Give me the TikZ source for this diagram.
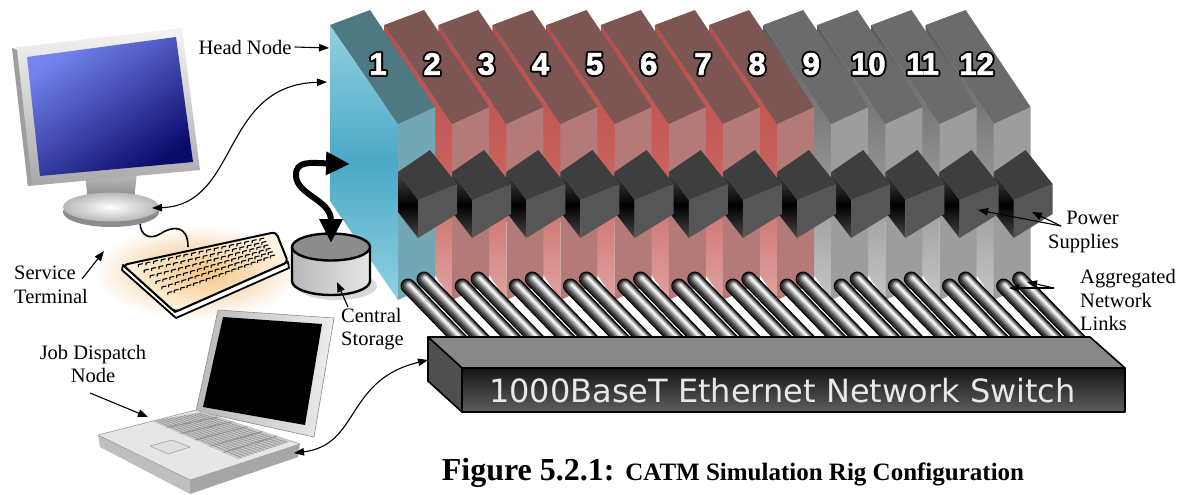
\documentclass[tikz,border=0pt]{standalone}
\usepackage{fontspec}
\setmainfont{Liberation Serif}
\newfontfamily\digitfont{Liberation Sans}
\newfontfamily\switchfont{DejaVu Sans}
\usetikzlibrary{arrows.meta,calc}

% blade colours
\definecolor{bluetop}{HTML}{4E7983}
\definecolor{bluefront}{HTML}{72A8B6}
\definecolor{blueA}{HTML}{93D0E0}
\definecolor{blueB}{HTML}{4AA8C6}
\definecolor{blueC}{HTML}{92D1E2}
\definecolor{redtop}{HTML}{7D5553}
\definecolor{redfront}{HTML}{B47A78}
\definecolor{redA}{HTML}{B84B48}
\definecolor{redB}{HTML}{C8605C}
\definecolor{redC}{HTML}{DFA3A1}
\definecolor{graytop}{HTML}{6B6B6B}
\definecolor{grayfront}{HTML}{9D9D9D}
\definecolor{grayA}{HTML}{5A5A5A}
\definecolor{grayB}{HTML}{8E8E8E}
\definecolor{grayC}{HTML}{C6C6C6}
% power supply cubes
\definecolor{cubetop}{HTML}{3E3E3E}
\definecolor{cubefront}{HTML}{565656}
\definecolor{cubeA}{HTML}{474747}
% network cables
\definecolor{tubeA}{HTML}{2E2E2E}
\definecolor{tubeB}{HTML}{555555}
\definecolor{tubeC}{HTML}{8A8A8A}
\definecolor{tubeD}{HTML}{C2C2C2}
\definecolor{tubeE}{HTML}{F2F2F2}
% switch
\definecolor{swtop}{HTML}{888888}
\definecolor{swside}{HTML}{4F4F4F}
\definecolor{swfrontbot}{HTML}{5E5E5E}
\definecolor{swtext}{HTML}{E8E8E8}
% storage
\definecolor{sttop}{HTML}{8C8C8C}
\definecolor{stA}{HTML}{B8B8B8}
\definecolor{stB}{HTML}{E6E6E6}
% terminal
\definecolor{kbglow}{HTML}{F0BC78}
\definecolor{kbcream}{HTML}{FFF4E2}
\definecolor{kbmid}{HTML}{F3C687}
\definecolor{frmA}{HTML}{F4F4F4}
\definecolor{frmB}{HTML}{A9A9A9}
\definecolor{scrA}{HTML}{7585F0}
\definecolor{scrB}{HTML}{0A0A6A}
% laptop
\definecolor{lidA}{HTML}{B8B8B8}
\definecolor{lidB}{HTML}{EDEDED}
\definecolor{deck}{HTML}{E6E6E6}

% white digits with a black outline: a wide black stroked copy under a white one
\newcommand\bladenumber[3]{%
  \node[bignum,text=black] (#1o) at (#2)
    {\special{pdf:literal direct 0 0 0 RG 4.6 w 1 j 2 Tr}#3\special{pdf:literal direct 0 Tr}};
  \node[bignum,text=white] (#1) at (#2)
    {\special{pdf:literal direct 1 1 1 RG 0.7 w 1 j 2 Tr}#3\special{pdf:literal direct 0 Tr}};}

% shaded cable: outline plus lighter inner strokes
\newcommand\cable[2]{%
  \draw[line width=15pt,line cap=round,black] #1 -- #2;
  \draw[line width=12.6pt,line cap=round,tubeA] #1 -- #2;
  \draw[line width=10pt,line cap=round,tubeB,shift={(0.5,-0.5)}] #1 -- #2;
  \draw[line width=7.4pt,line cap=round,tubeC,shift={(0.9,-0.9)}] #1 -- #2;
  \draw[line width=4.6pt,line cap=round,tubeD,shift={(1.2,-1.2)}] #1 -- #2;
  \draw[line width=2pt,line cap=round,tubeE,shift={(1.4,-1.4)}] #1 -- #2;}

\begin{document}
\begin{tikzpicture}[x=1pt,y=-1pt,line join=round,
  lbl/.style={font=\fontsize{20.5}{23.5}\selectfont,inner sep=0pt},
  ptr/.style={-{Triangle[length=10pt,width=7.5pt]},line width=1.1pt},
  dptr/.style={{Triangle[length=10pt,width=7.5pt]}-{Triangle[length=10pt,width=7.5pt]},line width=1.1pt},
  bignum/.style={font=\digitfont\bfseries\fontsize{31}{31}\selectfont,inner sep=0pt},
  fatarrow/.style={line width=6pt,{Triangle[length=24pt,width=22pt]}-{Triangle[length=24pt,width=22pt]}},
]
\useasboundingbox (0,0) rectangle (1189,495);
\fill[white] (0,0) rectangle (1189,495);

% ---------------- service terminal ----------------
\shade[inner color=kbglow,outer color=white] (197,272) ellipse[x radius=104,y radius=47];
% keyboard cable
\draw[line width=1.6pt] (140,222) .. controls (140,236) and (150,240) .. (160,234)
  .. controls (172,226) and (188,224) .. (188,247);
% keyboard lip and body
\fill[white,draw=black,line width=1.8pt] (123,265) -- (175,312) -- (288,262) -- (289,268) -- (176,318) -- (122,270) -- cycle;
\path[inner color=kbmid,outer color=kbcream,draw=black,line width=2pt,rounded corners=4pt]
  (123,265) -- (276,232) -- (288,262) -- (175,312) -- cycle;
\foreach \i in {0,...,16}{
  \foreach \j in {0,...,5}{
    \pgfmathsetmacro\uu{(\i+0.5)/17}
    \pgfmathsetmacro\vv{(\j+0.5)/6}
    \pgfmathsetmacro\kx{(1-\vv)*((1-\uu)*134+\uu*265)+\vv*((1-\uu)*170+\uu*277)}
    \pgfmathsetmacro\ky{(1-\vv)*((1-\uu)*264+\uu*238)+\vv*((1-\uu)*298+\uu*258)}
    \draw[line width=1.1pt] (\kx-2.4,\ky+1) -- ++(0,-2.4) -- ++(4.4,-1);
  }}

% monitor
\fill[black!45] (111,212) ellipse[x radius=48,y radius=15];
\shade[top color=black!25,bottom color=black!50] (85,174) -- (137,172) -- (134,201) -- (88,203) -- cycle;
\shade[inner color=white,outer color=black!28] (111,207) ellipse[x radius=48,y radius=14.5];
\shade[top color=frmA,bottom color=frmB] (12,48) -- (182,28) -- (200,170) -- (28,186) -- cycle;
\fill[black!38] (12,48) -- (17,50) -- (32,184) -- (28,186) -- cycle;
\shade[top color=scrA,bottom color=scrB,shading angle=35] (27,57) -- (176,37) -- (193,162) -- (40,176) -- cycle;

% ---------------- cluster blades ----------------
\foreach \k in {12,11,...,1}{
  \pgfmathsetmacro\dx{(\k-1)*54.15}
  \ifnum\k=1
    \colorlet{ctop}{bluetop}\colorlet{cfront}{bluefront}%
    \colorlet{csa}{blueA}\colorlet{csb}{blueB}\colorlet{csc}{blueC}%
  \else\ifnum\k<9
    \colorlet{ctop}{redtop}\colorlet{cfront}{redfront}%
    \colorlet{csa}{redA}\colorlet{csb}{redB}\colorlet{csc}{redC}%
  \else
    \colorlet{ctop}{graytop}\colorlet{cfront}{grayfront}%
    \colorlet{csa}{grayA}\colorlet{csb}{grayB}\colorlet{csc}{grayC}%
  \fi\fi
  \begin{scope}[shift={(\dx,0)}]
    \path[top color=csa,bottom color=csc,middle color=csb] (330,25) -- (398,124) -- (398,300) -- (330,201) -- cycle;
    \fill[cfront] (398,124) -- (435,107) -- (435,283) -- (398,300) -- cycle;
    \fill[ctop] (330,25) -- (370,10) -- (435,107) -- (398,124) -- cycle;
    % power supply
    \path[top color=cubeA,bottom color=cubeA,middle color=black] (398,172) -- (418,200) -- (418,238) -- (398,212) -- cycle;
    \fill[cubefront] (418,200) -- (457,184) -- (457,214) -- (418,238) -- cycle;
    \fill[cubetop] (398,172) -- (430,150) -- (457,184) -- (418,200) -- cycle;
    \ifnum\k>9 \def\nx{381}\else\def\nx{378}\fi
    \bladenumber{num\k}{\nx,64}{\k}
  \end{scope}
}

% aggregated network links
\foreach \k in {12,11,...,1}{
  \pgfmathsetmacro\dx{(\k-1)*54.15}
  \begin{scope}[shift={(\dx,0)}]
    \cable{(424,279)}{(484,341)}
    \cable{(408,286)}{(466,346)}
  \end{scope}
}

% ---------------- network switch ----------------
\fill[swtop,draw=black,line width=1.6pt] (428,337) -- (1090,337) -- (1125,368) -- (462,368) -- cycle;
\fill[swside,draw=black,line width=1.6pt] (428,337) -- (462,368) -- (462,412) -- (428,381) -- cycle;
\path[top color=black!92,bottom color=swfrontbot,draw=black,line width=1.6pt] (462,368) rectangle (1125,412);
\node[font=\switchfont\fontsize{32}{32}\selectfont,text=swtext,inner sep=0pt] (sw) at (782.5,391)
  {1000BaseT Ethernet Network Switch};
\coordinate (swleft) at (428,360);

% ---------------- central storage ----------------
\fill[black!15] (337,286) ellipse[x radius=40,y radius=14];
\path[left color=stA,right color=stB,draw=black,line width=2.4pt]
  (292,247) -- (292,281) arc[start angle=180,end angle=0,x radius=39,y radius=14] -- (370,247) -- cycle;
\path[fill=sttop,draw=black,line width=2.4pt] (331,247) ellipse[x radius=39,y radius=13.5];
\coordinate (sttopc) at (331,243);
\coordinate (hnin) at (350,164);
\draw[fatarrow] (sttopc) .. controls (331,200) and (297,195) .. (296,176)
  .. controls (295,160) and (312,163) .. (hnin);

% ---------------- job dispatch laptop ----------------
\fill[black!25] (98,435) -- (190,480) -- (190,494) -- (100,447) -- cycle;
\fill[black!35] (190,480) -- (300,444) -- (298,457) -- (190,494) -- cycle;
\path[left color=lidA,right color=lidB,draw=black!45,line width=0.6pt] (218,310) -- (334,318) -- (314,437) -- (196,411) -- cycle;
\fill[black] (223,317) -- (322,324) -- (305,425) -- (203,407) -- cycle;
\path[fill=deck,draw=black!40,line width=0.6pt] (98,435) -- (196,410) -- (300,444) -- (190,480) -- cycle;
\coordinate (lk1) at (152,421); \coordinate (lk2) at (203,412);
\coordinate (lk3) at (292,441); \coordinate (lk4) at (238,459);
\fill[black!22] (lk1) -- (lk2) -- (lk3) -- (lk4) -- cycle;
\foreach \t in {0.17,0.33,0.5,0.67,0.83}{
  \draw[black!45,line width=0.8pt] ($(lk1)!\t!(lk4)$) -- ($(lk2)!\t!(lk3)$);}
\foreach \t in {0.07,0.14,...,0.95}{
  \draw[black!45,line width=0.6pt] ($(lk1)!\t!(lk2)$) -- ($(lk4)!\t!(lk3)$);}
\path[fill=black!12,draw=black!40,line width=0.5pt] (150,446) -- (172,440) -- (190,447) -- (168,454) -- cycle;

% ---------------- labels and pointers ----------------
\node[lbl] (lhead) at (245,47) {Head Node};
\coordinate (headtip) at (329,48);
\draw[ptr] ([xshift=3pt]lhead.east) -- (headtip);

\coordinate (monbase) at (152,208);
\coordinate (headside) at (327,82);
\draw[dptr] (monbase) .. controls (240,205) and (220,85) .. (headside);

\node[lbl,align=left,anchor=west] (lserv) at (14,285) {Service\\Terminal};
\coordinate (servtail) at (82,279);
\coordinate (servtip) at (104,251);
\draw[ptr] (servtail) -- (servtip);

\node[lbl,align=center] (ljob) at (93,364) {Job Dispatch\\Node};
\coordinate (jobtail) at (90,393);
\coordinate (jobtip) at (148,417);
\draw[ptr] (jobtail) -- (jobtip);

\coordinate (lapside) at (294,453);
\draw[dptr] (lapside) .. controls (360,445) and (345,380) .. (swleft);

\node[lbl,align=left,anchor=west] (lstor) at (341,329) {Central\\Storage};
\coordinate (stortail) at (348,307);
\coordinate (stortip) at (337,282);
\draw[ptr] (stortail) -- (stortip);

\node[lbl,align=right,anchor=east] (lpow) at (1119,232) {Power\\Supplies};
\coordinate (powfork) at (1061,226);
\coordinate (pow11) at (978,210);
\coordinate (pow12) at (1032,212);
\draw[ptr] (powfork) -- (pow11);
\draw[ptr] (powfork) -- (pow12);

\node[lbl,align=left,anchor=west] (lagg) at (1080,300) {Aggregated\\Network\\Links};
\coordinate (aggfork) at (1054,288);
\coordinate (agga) at (1009,288);
\coordinate (aggb) at (1027,282);
\draw[ptr] (aggfork) -- (agga);
\draw[ptr] (aggfork) -- (aggb);

% caption
\node[inner sep=0pt,anchor=base] (cap) at (733,480)
  {{\fontsize{32}{32}\selectfont\bfseries Figure 5.2.1: }{\fontsize{25}{32}\selectfont\bfseries CATM Simulation Rig Configuration}};
\end{tikzpicture}
\end{document}
